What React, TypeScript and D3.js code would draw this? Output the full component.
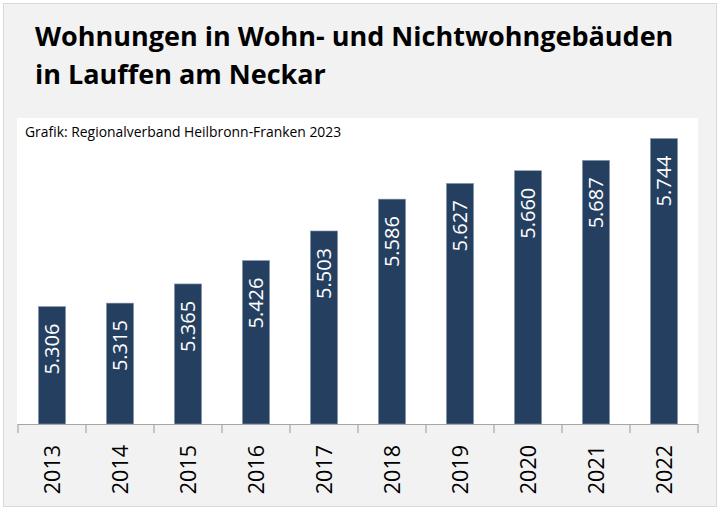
import React from "react";
import * as d3 from "d3";

const years = ["2013", "2014", "2015", "2016", "2017", "2018", "2019", "2020", "2021", "2022"];
const values = [5306, 5315, 5365, 5426, 5503, 5586, 5627, 5660, 5687, 5744];
const titleLines = ["Wohnungen in Wohn- und Nichtwohngebäuden", "in Lauffen am Neckar"];
const sourceText = "Grafik: Regionalverband Heilbronn-Franken 2023";
const yDomain = [5000, 5800];

const W = 720;
const H = 509;
const plot = { left: 18, right: 698, top: 117, bottom: 424 };

export default function App() {
  const x = d3.scaleBand<string>().domain(years).range([plot.left, plot.right]).paddingInner(0.6).paddingOuter(0.3);
  const xb = d3.scaleBand<string>().domain(years).range([plot.left, plot.right]);
  const y = d3.scaleLinear().domain(yDomain).range([plot.bottom, plot.top]);
  const fmt = (v: number) => d3.format(",")(v).replace(",", ".");
  const font = "'Open Sans', sans-serif";
  const ticks = [...years.map((d) => xb(d) as number), plot.right];

  return (
    <svg width={W} height={H} style={{ position: "absolute", left: 0, top: 0 }} fontFamily={font}>
      <rect x={3.5} y={3.5} width={713} height={503} fill="#f2f2f2" stroke="#d9d9d9" />
      <rect x={17} y={118} width={681} height={plot.bottom - 118} fill="#ffffff" />
      {titleLines.map((t, i) => (
        <text key={i} x={35} y={46 + i * 38} fontSize={27} fontWeight="bold" fill="#000">
          {t}
        </text>
      ))}
      <text x={25} y={137} fontSize={13.9} fill="#000">
        {sourceText}
      </text>
      {years.map((d, i) => {
        const bx = x(d) as number;
        const top = y(values[i]);
        const cx = bx + x.bandwidth() / 2;
        return (
          <g key={d}>
            <rect x={bx} y={top} width={x.bandwidth()} height={plot.bottom - top} fill="#253f61" stroke="#8a9ab0" strokeWidth={0.6} />
            <text
              transform={`translate(${cx + 7},${top + 17}) rotate(-90)`}
              textAnchor="end"
              fontSize={20}
              fill="#ffffff"
            >
              {fmt(values[i])}
            </text>
            <text
              transform={`translate(${cx + 8},${445}) rotate(-90)`}
              textAnchor="end"
              fontSize={21.5}
              fill="#000"
            >
              {d}
            </text>
          </g>
        );
      })}
      <line x1={plot.left} x2={plot.right} y1={plot.bottom + 0.5} y2={plot.bottom + 0.5} stroke="#a6a6a6" strokeWidth={1.2} />
      {ticks.map((t, i) => (
        <line key={i} x1={t} x2={t} y1={plot.bottom} y2={plot.bottom + 9} stroke="#a6a6a6" strokeWidth={1.2} />
      ))}
    </svg>
  );
}
